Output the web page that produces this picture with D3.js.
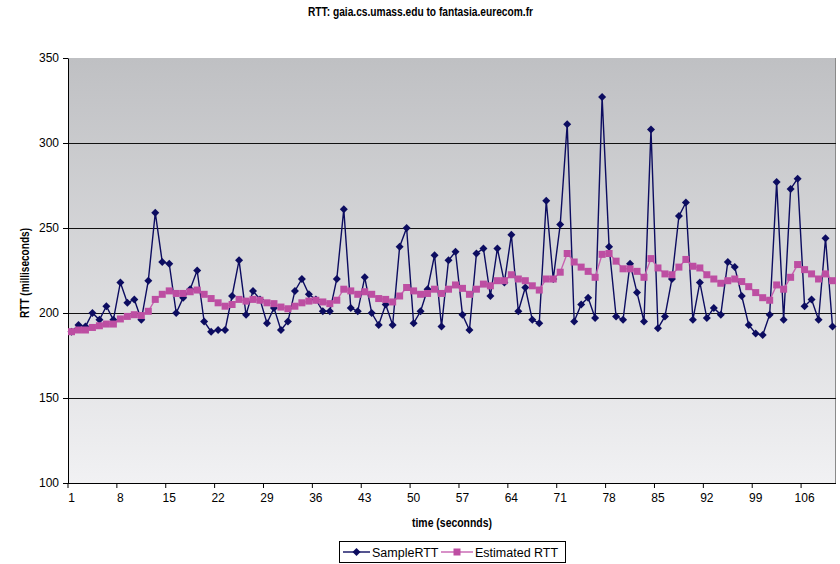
<!DOCTYPE html>
<html>
<head>
<meta charset="utf-8">
<title>RTT</title>
<script src="https://d3js.org/d3.v7.min.js"></script>
<style>
  body { margin: 0; background: #fff; font-family: "Liberation Sans", Arial, sans-serif; }
</style>
</head>
<body>
<div id="chart"></div>
<script>
// time in seconds, one sample per second
const seconds = d3.range(1, 111);
const xTickLabels = [1, 8, 15, 22, 29, 36, 43, 50, 57, 64, 71, 78, 85, 92, 99, 106];
const yTicks = [100, 150, 200, 250, 300, 350];

const sampleRTT = [
  189, 193, 192, 200, 196, 204, 196, 218, 206, 208,
  196, 219, 259, 230, 229, 200, 209, 214, 225, 195,
  189, 190, 190, 210, 231, 199, 213, 208, 194, 203,
  190, 195, 213, 220, 211, 208, 201, 201, 220, 261,
  203, 201, 221, 200, 193, 205, 193, 239, 250, 194,
  201, 214, 234, 192, 231, 236, 199, 190, 235, 238,
  210, 238, 218, 246, 201, 215, 196, 194, 266, 220,
  252, 311, 195, 205, 209, 197, 327, 239, 198, 196,
  229, 212, 195, 308, 191, 198, 220, 257, 265, 196,
  218, 197, 203, 199, 230, 227, 210, 193, 188, 187,
  199, 277, 196, 273, 279, 204, 208, 196, 244, 192
];

const estimatedRTT = [
  189, 190, 190, 191.5, 192.5, 193.5, 193.5, 196.5, 198, 199,
  198.5, 201, 208, 211, 213, 211.5, 211.5, 212.5, 213.5, 211,
  208.5, 206, 204, 205, 208, 207, 208, 207.5, 206, 205.5,
  203.5, 202.5, 204, 206, 207, 207.5, 206.5, 205.5, 207.5, 214,
  213, 211, 212.5, 211, 208.5, 208, 206.5, 210, 215, 213,
  211, 211.5, 214, 211.5, 214, 216.5, 214.5, 211, 214, 217,
  216, 219, 219, 222.5, 220, 219, 216, 213.5, 220, 220,
  224, 235, 230, 227, 224.5, 221, 234.5, 235, 230.5, 226,
  226, 224.5, 221, 232, 226.5, 223, 222.5, 227, 231.5, 227.5,
  226.5, 222.5, 220, 217.5, 219, 220, 218.5, 215.5, 212, 209,
  207.5, 216.5, 214, 221, 228.5, 225.5, 223, 220, 223, 219
];

const W = 840, H = 564;
const plot = {left: 68, right: 836, top: 58, bottom: 483};
const navy = "#0c0c60", pink = "#bd4ea2", pinkLine = "#c862b0";

const svg = d3.select("#chart").append("svg")
  .attr("width", W).attr("height", H)
  .style("font-family", "'Liberation Sans', Arial, sans-serif");

const grad = svg.append("defs").append("linearGradient")
  .attr("id", "bg").attr("x1", 0).attr("y1", 0).attr("x2", 0).attr("y2", 1);
grad.append("stop").attr("offset", "0%").attr("stop-color", "#bfc0c3");
grad.append("stop").attr("offset", "100%").attr("stop-color", "#f1f1f3");

const x = d3.scaleBand().domain(seconds).range([plot.left, plot.right]);
const y = d3.scaleLinear().domain([100, 350]).range([plot.bottom, plot.top]);
const cx = d => x(d) + x.bandwidth() / 2;

// plot area
svg.append("rect")
  .attr("x", plot.left).attr("y", plot.top)
  .attr("width", plot.right - plot.left).attr("height", plot.bottom - plot.top)
  .attr("fill", "url(#bg)");
svg.append("line")
  .attr("x1", plot.right - 0.5).attr("x2", plot.right - 0.5)
  .attr("y1", plot.top).attr("y2", plot.bottom)
  .attr("stroke", "#8a8a8a");

// gridlines
svg.append("g").selectAll("line")
  .data(yTicks.filter(v => v > 100 && v < 350))
  .join("line")
  .attr("x1", plot.left).attr("x2", plot.right)
  .attr("y1", d => Math.round(y(d)) + 0.5).attr("y2", d => Math.round(y(d)) + 0.5)
  .attr("stroke", "#111").attr("stroke-width", 1);

// y axis
const yAxis = svg.append("g")
  .attr("transform", `translate(${plot.left},0)`)
  .call(d3.axisLeft(y).tickValues(yTicks).tickSize(5).tickSizeOuter(0));
yAxis.select(".domain").attr("stroke", "#000");
yAxis.selectAll("line").attr("stroke", "#000");
yAxis.selectAll("text").attr("font-size", 12).attr("fill", "#000")
  .attr("font-family", "'Liberation Sans', Arial, sans-serif").attr("x", -9);

// x axis: ticks between categories, labels on category centres
const bw = x.bandwidth();
const xAxis = svg.append("g")
  .attr("transform", `translate(0,${plot.bottom})`)
  .call(d3.axisBottom(x).tickValues(xTickLabels).tickSize(5).tickSizeOuter(0));
xAxis.select(".domain").attr("stroke", "#000").attr("d", `M${plot.left},0.5H${plot.right}`);
xAxis.selectAll(".tick line").attr("stroke", "#000").attr("x1", -bw / 2).attr("x2", -bw / 2);
xAxis.selectAll(".tick text").attr("font-size", 12).attr("fill", "#000")
  .attr("font-family", "'Liberation Sans', Arial, sans-serif").attr("y", 10);

// SampleRTT
const line = vals => d3.line().x((d, i) => cx(seconds[i])).y(d => y(d))(vals);
svg.append("path").attr("d", line(sampleRTT))
  .attr("fill", "none").attr("stroke", navy).attr("stroke-width", 1.4);
const diamond = "M0,-4L4,0L0,4L-4,0Z";
svg.append("g").selectAll("path")
  .data(sampleRTT).join("path")
  .attr("d", diamond)
  .attr("transform", (d, i) => `translate(${cx(seconds[i])},${y(d)})`)
  .attr("fill", navy);

// Estimated RTT
svg.append("path").attr("d", line(estimatedRTT))
  .attr("fill", "none").attr("stroke", pinkLine).attr("stroke-width", 1.4);
svg.append("g").selectAll("rect")
  .data(estimatedRTT).join("rect")
  .attr("x", (d, i) => cx(seconds[i]) - 3.5)
  .attr("y", d => y(d) - 3.5)
  .attr("width", 7).attr("height", 7)
  .attr("fill", pink);

// titles
svg.append("text")
  .attr("x", 420.5).attr("y", 16)
  .attr("text-anchor", "middle").attr("font-size", 12).attr("font-weight", "bold")
  .attr("textLength", 225).attr("lengthAdjust", "spacingAndGlyphs")
  .text("RTT: gaia.cs.umass.edu to fantasia.eurecom.fr");
svg.append("text")
  .attr("transform", "translate(29,273) rotate(-90)")
  .attr("text-anchor", "middle").attr("font-size", 12).attr("font-weight", "bold")
  .attr("textLength", 90).attr("lengthAdjust", "spacingAndGlyphs")
  .text("RTT (milliseconds)");
svg.append("text")
  .attr("x", 452).attr("y", 527)
  .attr("text-anchor", "middle").attr("font-size", 12).attr("font-weight", "bold")
  .attr("textLength", 80).attr("lengthAdjust", "spacingAndGlyphs")
  .text("time (seconnds)");

// legend
const lg = svg.append("g");
lg.append("rect").attr("x", 339.5).attr("y", 541.5).attr("width", 226).attr("height", 21)
  .attr("fill", "#fff").attr("stroke", "#000");
lg.append("line").attr("x1", 343).attr("x2", 370).attr("y1", 552).attr("y2", 552)
  .attr("stroke", navy).attr("stroke-width", 1.4);
lg.append("path").attr("d", diamond).attr("transform", "translate(356.5,552)").attr("fill", navy);
lg.append("text").attr("x", 372).attr("y", 556.5).attr("font-size", 12.5).text("SampleRTT");
lg.append("line").attr("x1", 441).attr("x2", 473).attr("y1", 552).attr("y2", 552)
  .attr("stroke", pinkLine).attr("stroke-width", 1.4);
lg.append("rect").attr("x", 453.5).attr("y", 548.5).attr("width", 7).attr("height", 7).attr("fill", pink);
lg.append("text").attr("x", 475).attr("y", 556.5).attr("font-size", 12.5).text("Estimated RTT");
</script>
</body>
</html>
